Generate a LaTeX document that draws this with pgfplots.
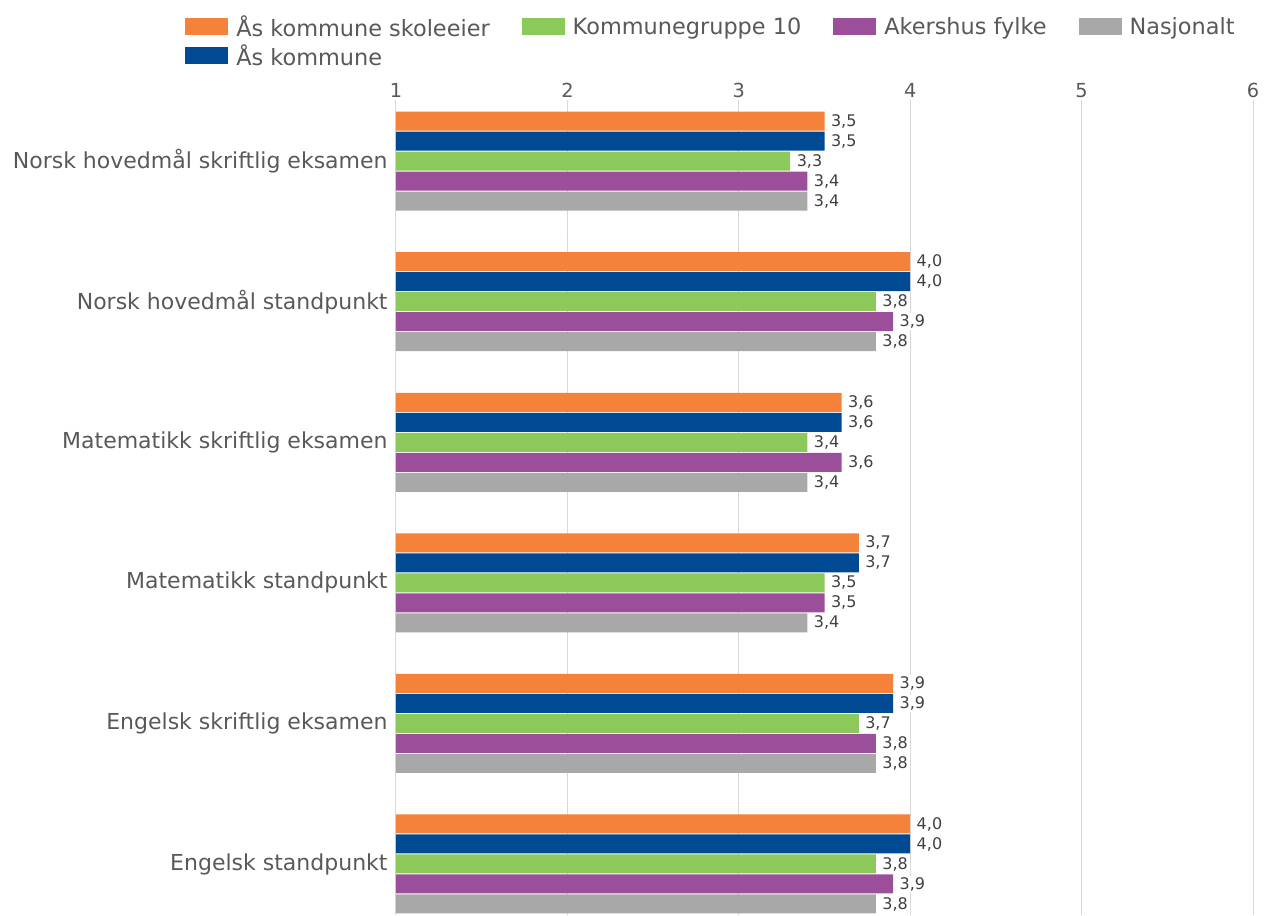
\documentclass[border=0pt]{standalone}
\usepackage{fontspec}
\setmainfont{DejaVu Sans}
\usepackage{pgfplots}
\usepackage{pgfplotstable}
\pgfplotsset{compat=1.18}

\definecolor{cOrange}{HTML}{F5823A}
\definecolor{cBlue}{HTML}{004A93}
\definecolor{cGreen}{HTML}{8CC85A}
\definecolor{cPurple}{HTML}{9B4F9B}
\definecolor{cGray}{HTML}{A8A8A8}
\definecolor{txt}{HTML}{595959}
\definecolor{lbl}{HTML}{404040}

% y = category index, then the five series
\pgfplotstableread{
y  skoleeier  kommune  gruppe  fylke  nasjonalt
0  3.5        3.5      3.3     3.4    3.4
1  4.0        4.0      3.8     3.9    3.8
2  3.6        3.6      3.4     3.6    3.4
3  3.7        3.7      3.5     3.5    3.4
4  3.9        3.9      3.7     3.8    3.8
5  4.0        4.0      3.8     3.9    3.8
}\results

\begin{document}
\begin{tikzpicture}
\begin{axis}[
    name=ax,
    width=642.75pt, height=611.25pt,
    scale only axis,
    xbar, bar width=14.25pt,
    xmin=1, xmax=6,
    xtick={1,...,6},
    xticklabel pos=upper,
    ymin=-0.435, ymax=5.363,
    y dir=reverse,
    ytick={0,...,5},
    yticklabels={Norsk hovedmål skriftlig eksamen, Norsk hovedmål standpunkt,
        Matematikk skriftlig eksamen, Matematikk standpunkt,
        Engelsk skriftlig eksamen, Engelsk standpunkt},
    axis line style={draw=none},
    major tick style={draw=none},
    xmajorgrids,
    major grid style={draw=black!15, line width=0.75pt},
    /pgf/number format/assume math mode=true,
    yticklabel style={font=\fontsize{16.5pt}{19pt}\selectfont, text=txt, xshift=1.5pt},
    xticklabel style={font=\fontsize{14.5pt}{17pt}\selectfont, text=txt, yshift=-1.5pt},
    point meta=x,
    nodes near coords,
    every node near coord/.append style={
        /pgf/number format/fixed, /pgf/number format/fixed zerofill,
        /pgf/number format/precision=1, /pgf/number format/use comma,
        font=\fontsize{12pt}{14pt}\selectfont, text=lbl,
        fill=white, inner sep=1.2pt, xshift=3.5pt},
    legend columns=4,
    legend cell align=left,
    legend style={at={(-0.2462,1.1081)}, anchor=north west, draw=none,
        inner sep=0pt, row sep=-0.5pt,
        font=\fontsize{16.8pt}{19pt}\selectfont, text=txt,
        nodes={inner sep=2.5pt},
        /tikz/every odd column/.append style={column sep=3.5pt},
        /tikz/every even column/.append style={column sep=21.5pt}},
    legend image code/.code={\fill[#1] (0pt,-6.4pt) rectangle (32.25pt,6.4pt);},
]
\addplot[fill=cOrange, draw=none, bar shift=30pt] table[x=skoleeier, y=y] {\results};
\addplot[fill=cGreen, draw=none, bar shift=0pt] table[x=gruppe, y=y] {\results};
\addplot[fill=cPurple, draw=none, bar shift=-15pt] table[x=fylke, y=y] {\results};
\addplot[fill=cGray, draw=none, bar shift=-30pt] table[x=nasjonalt, y=y] {\results};
\addplot[fill=cBlue, draw=none, bar shift=15pt] table[x=kommune, y=y] {\results};
\legend{Ås kommune skoleeier, Kommunegruppe 10, Akershus fylke, Nasjonalt, Ås kommune}
\end{axis}
\pgfresetboundingbox
\path ([xshift=-297pt]ax.south west) rectangle ([xshift=8.25pt,yshift=75pt]ax.north east);
\end{tikzpicture}
\end{document}
